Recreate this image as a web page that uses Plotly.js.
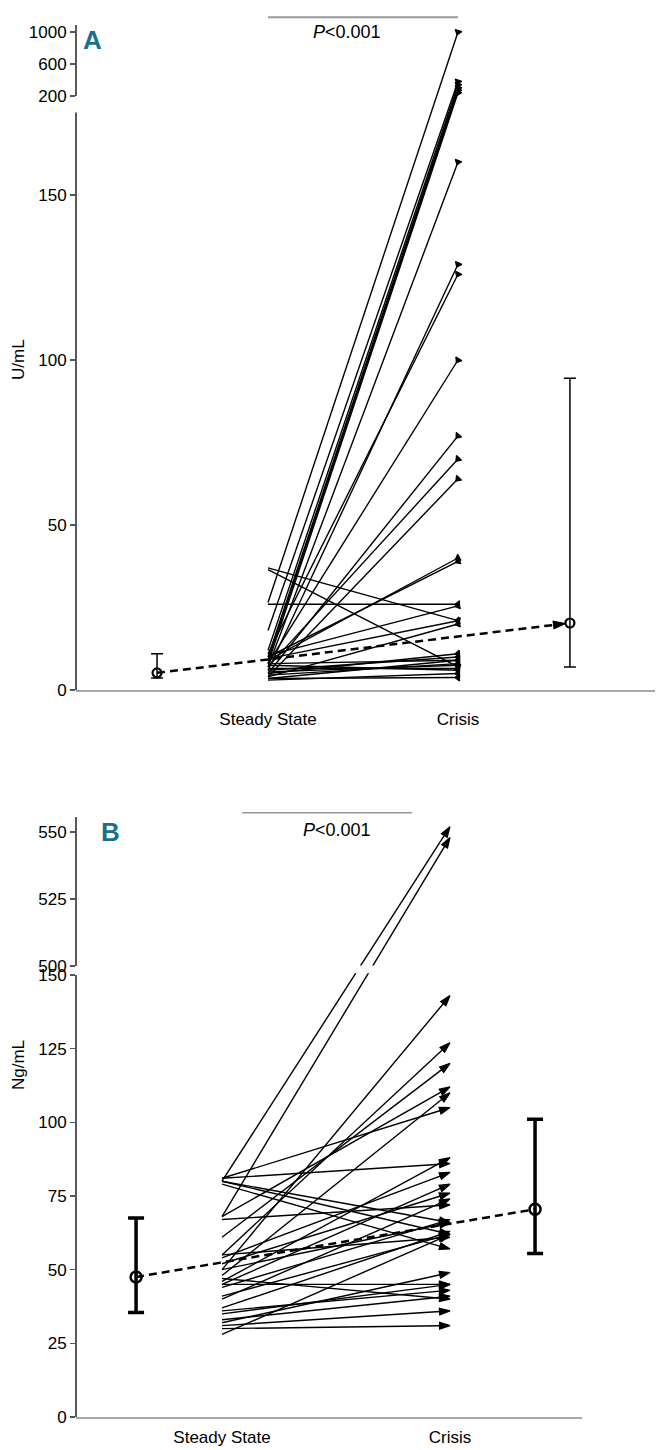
<!DOCTYPE html>
<html>
<head>
<meta charset="utf-8">
<script src="https://cdn.plot.ly/plotly-3.0.1.min.js"></script>
<style>html,body{margin:0;padding:0;background:#fff;}#chart{width:660px;height:1450px;}</style>
</head>
<body>
<div id="chart"></div>
<script>
// ---------------- DATA ----------------
const categories = ["Steady State", "Crisis"];

// Panel A (U/mL): steady state -> crisis, one entry per patient
const aSteady = [26.5, 18, 12, 10, 9, 8, 7, 6, 11, 8, 5, 7, 4, 9, 10, 26, 10.5, 37, 36.5, 4, 5, 6, 3.5, 4.5, 5.5, 6.5, 7.5, 3.5, 3, 8, 9.5];
const aCrisis = [1000, 380, 340, 300, 270, 240, 160, 129, 126, 100, 77, 70, 64, 40, 39, 26, 25.5, 21, 7, 20, 11, 10, 9, 8, 7.5, 6.5, 6, 3.8, 5, 9, 21];
const aMean = [5.2, 20.3];
const aLow = [3.6, 7];
const aHigh = [11, 94.5];
const aTicksLow = [0, 50, 100, 150];
const aTicksHigh = [200, 600, 1000];

// Panel B (Ng/mL)
const bSteady = [81, 80, 81, 80, 79, 80, 68, 68, 67, 61, 55, 54, 52, 50, 48, 46, 45, 44, 41, 40, 37, 36, 35, 33, 32, 31, 30, 28, 47, 50, 55, 45];
const bCrisis = [105, 552, 86, 66, 57, 62, 548, 112, 72, 120, 127, 83, 76, 143, 110, 88, 79, 67, 62, 74, 63, 43, 45, 41, 49, 36, 31, 62, 40, 66, 61, 45];
const bMean = [47.5, 70.5];
const bLow = [35.5, 55.5];
const bHigh = [67.5, 101];
const bTicksLow = [0, 25, 50, 75, 100, 125, 150];
const bTicksHigh = [500, 525, 550];

const pText = "<i>P</i>&lt;0.001";

// ---------------- BROKEN-AXIS SCALES ----------------
function tA(v) { return v <= 175 ? v : 180 + (v - 200) * 0.02424; }
function tB(v) { return v <= 150 ? v : 153 + (v - 500) * 0.91; }

// ---------------- LAYOUT CONSTANTS ----------------
const W = 660, H = 1450;
const FONT = "'Liberation Sans Narrow', 'Arial Narrow', 'Liberation Sans', Arial, sans-serif";
const TEAL = "#1b6f8f";
const xA = {range: [-0.0105, 3.0368], meanL: 0.416, meanR: 2.589};
const xB = {range: [0.3596, 2.5789], meanL: 0.623, meanR: 2.373};
const py = p => 1 - p / H;
const px = p => p / W;

function pairTrace(st, cr, t, xa, ya, opts) {
  const x = [], y = [], sym = [], size = [];
  for (let i = 0; i < st.length; i++) {
    x.push(1, 2, null);
    y.push(t(st[i]), t(cr[i]), null);
    sym.push(opts.s0, opts.s1, opts.s0);
    size.push(opts.z0, opts.z1, 0);
  }
  return {
    type: "scatter", mode: "lines+markers", x, y, xaxis: xa, yaxis: ya,
    line: {color: "#000", width: opts.lw},
    marker: {color: "#000", opacity: 1, symbol: sym, size: size, angleref: "previous", line: {width: 1.2, color: "#000"}},
    hoverinfo: "skip", showlegend: false, connectgaps: false
  };
}

function meanTrace(xs, m, lo, hi, t, xa, ya, opts) {
  const ym = m.map(t);
  return {
    type: "scatter", mode: "markers", x: xs, y: ym, xaxis: xa, yaxis: ya,
    marker: {symbol: "circle-open", size: opts.size, color: "#000", line: {width: opts.lw, color: "#000"}},
    error_y: {
      type: "data", symmetric: false,
      array: hi.map((v, i) => t(v) - ym[i]),
      arrayminus: lo.map((v, i) => ym[i] - t(v)),
      thickness: opts.et, width: opts.ew, color: "#000"
    },
    hoverinfo: "skip", showlegend: false
  };
}

function dashTrace(xs, m, t, xa, ya, arrow) {
  return {
    type: "scatter", mode: arrow ? "lines+markers" : "lines", x: xs, y: m.map(t), xaxis: xa, yaxis: ya,
    line: {color: "#000", width: 2.5, dash: "8px,5px"},
    marker: {symbol: ["circle", "arrow"], size: [0, 12], color: "#000", opacity: 1, angleref: "previous", standoff: [0, 5], line: {width: 1.2, color: "#000"}},
    hoverinfo: "skip", showlegend: false
  };
}

const traces = [
  pairTrace(aSteady, aCrisis, tA, "x", "y", {s0: "triangle-down", s1: "triangle-down", z0: 5, z1: 6, lw: 1.4}),
  dashTrace([xA.meanL, xA.meanR], aMean, tA, "x", "y", true),
  meanTrace([xA.meanL, xA.meanR], aMean, aLow, aHigh, tA, "x", "y", {size: 9, lw: 2.2, et: 1.5, ew: 6}),
  pairTrace(bSteady, bCrisis, tB, "x2", "y2", {s0: "circle", s1: "arrow", z0: 5, z1: 11, lw: 1.4}),
  dashTrace([xB.meanL, xB.meanR], bMean, tB, "x2", "y2", false),
  meanTrace([xB.meanL, xB.meanR], bMean, bLow, bHigh, tB, "x2", "y2", {size: 11, lw: 2.5, et: 3.5, ew: 8})
];

const tickFont = {family: FONT, size: 17, color: "#000"};

function yAxis(lowT, highT, t, domain, range) {
  const vals = lowT.map(t).concat(highT.map(t));
  const txt = lowT.map(String).concat(highT.map(String));
  return {
    domain, range, showline: false, showgrid: false, zeroline: false,
    ticks: "outside", ticklen: 5, tickwidth: 1.5, tickcolor: "#555",
    tickvals: vals, ticktext: txt, tickfont: tickFont, fixedrange: true
  };
}
function xAxis(range, domain, anchor, tl) {
  return {
    domain, range, anchor, showline: true, linecolor: "#a8a8a8", linewidth: 2,
    showgrid: false, zeroline: false, ticks: "outside", ticklen: tl, tickcolor: "rgba(0,0,0,0)",
    tickvals: [1, 2], ticktext: categories, tickfont: tickFont, fixedrange: true
  };
}

const layout = {
  width: W, height: H,
  margin: {l: 0, r: 0, t: 0, b: 0},
  paper_bgcolor: "#fff", plot_bgcolor: "rgba(0,0,0,0)",
  showlegend: false,
  xaxis: xAxis(xA.range, [px(76), px(655)], "y", 13),
  yaxis: yAxis(aTicksLow, aTicksHigh, tA, [py(690), py(10)], [0, 680 / 3.3]),
  xaxis2: xAxis(xB.range, [px(76), px(582)], "y2", 4),
  yaxis2: yAxis(bTicksLow, bTicksHigh, tB, [py(1417), py(800)], [0, 617 / 2.947]),
  shapes: [
    {type: "line", xref: "x domain", yref: "y", x0: 0, x1: 0, y0: 0, y1: 175, line: {color: "#000", width: 1.3}},
    {type: "line", xref: "x domain", yref: "y", x0: 0, x1: 0, y0: tA(200), y1: 201.5, line: {color: "#000", width: 1.3}},
    {type: "line", xref: "x2 domain", yref: "y2", x0: 0, x1: 0, y0: 0, y1: 150, line: {color: "#000", width: 1.3}},
    {type: "line", xref: "x2 domain", yref: "y2", x0: 0, x1: 0, y0: tB(500), y1: 203.6, line: {color: "#000", width: 1.3}},
    {type: "rect", xref: "x2", yref: "y2", x0: 1.3, x1: 1.9, y0: 150.6, y1: 153.2, fillcolor: "#fff", line: {width: 0}, layer: "above"},
    {type: "line", xref: "x", yref: "y", x0: 1, x1: 2, y0: 203.9, y1: 203.9, line: {color: "#999", width: 2}},
    {type: "line", xref: "x2", yref: "y2", x0: 1.088, x1: 1.833, y0: 205, y1: 205, line: {color: "#999", width: 1.5}}
  ],
  annotations: [
    {text: "A", xref: "paper", yref: "paper", x: px(92), y: py(40), showarrow: false, xanchor: "center", yanchor: "middle",
     font: {family: FONT, size: 26, color: TEAL, weight: "bold"}},
    {text: "B", xref: "paper", yref: "paper", x: px(110), y: py(832), showarrow: false, xanchor: "center", yanchor: "middle",
     font: {family: FONT, size: 26, color: TEAL, weight: "bold"}},
    {text: "U/mL", xref: "paper", yref: "paper", x: px(18), y: py(360), showarrow: false, textangle: -90,
     xanchor: "center", yanchor: "middle", font: {family: FONT, size: 17, color: "#000"}},
    {text: "Ng/mL", xref: "paper", yref: "paper", x: px(18), y: py(1065), showarrow: false, textangle: -90,
     xanchor: "center", yanchor: "middle", font: {family: FONT, size: 17, color: "#000"}},
    {text: pText, xref: "x", yref: "y", x: 1.416, y: 199.4, showarrow: false, xanchor: "center", yanchor: "middle",
     font: {family: FONT, size: 18, color: "#000"}},
    {text: pText, xref: "x2", yref: "y2", x: 1.504, y: 199.2, showarrow: false, xanchor: "center", yanchor: "middle",
     font: {family: FONT, size: 18, color: "#000"}}
  ]
};

Plotly.newPlot("chart", traces, layout, {staticPlot: true, displayModeBar: false});
</script>
</body>
</html>
